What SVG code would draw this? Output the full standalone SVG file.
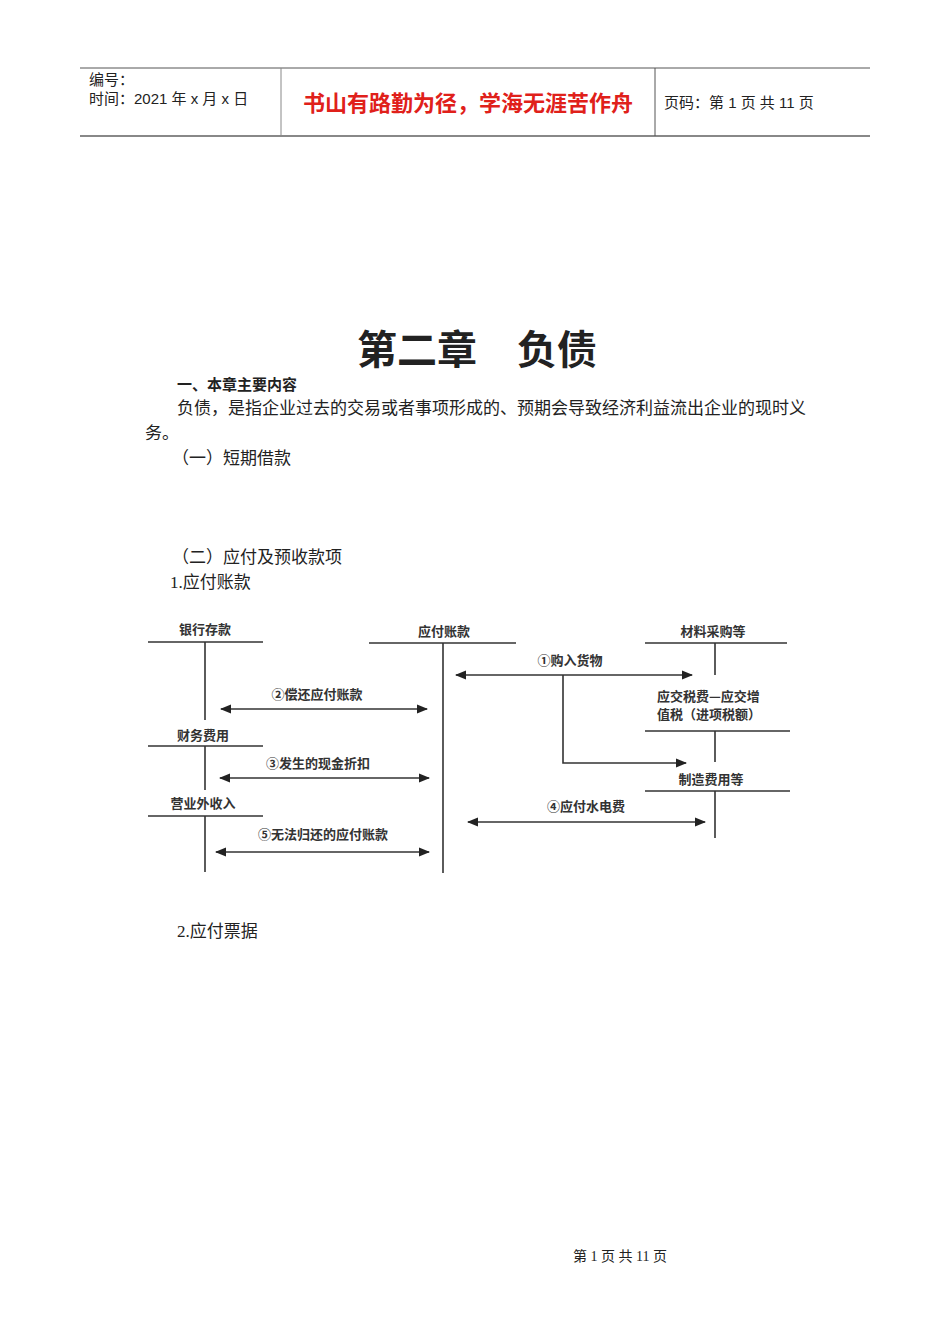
<svg xmlns="http://www.w3.org/2000/svg" width="950" height="1344" viewBox="0 0 950 1344">
<style>
text{font-family:"Liberation Serif","Noto Sans CJK SC",serif;fill:#222}
.b{font-size:17px}
.d{font-size:13px;font-family:"Noto Sans CJK SC",sans-serif;fill:#333;text-anchor:middle;font-weight:bold}
.dl{font-size:13px;font-family:"Noto Sans CJK SC",sans-serif;fill:#333;font-weight:bold}
.h{font-family:"Liberation Sans","Noto Sans CJK SC",sans-serif}
line,path{stroke:#333;stroke-width:1.6;fill:none}
.ah{fill:#222;stroke:none}
</style>
<defs>
<marker id="a" viewBox="0 0 10 10" refX="9" refY="5" markerWidth="7" markerHeight="7" orient="auto-start-reverse"><path class="ah" d="M0,1 L10,5 L0,9 Z"/></marker>
</defs>
<g id="header">
<line x1="80" y1="68" x2="870" y2="68" style="stroke:#555;stroke-width:1"/>
<line x1="80" y1="136" x2="870" y2="136" style="stroke:#888;stroke-width:2"/>
<line x1="281" y1="68" x2="281" y2="136" style="stroke:#888;stroke-width:1"/>
<line x1="655" y1="68" x2="655" y2="136" style="stroke:#555;stroke-width:1"/>
<text class="h" x="89" y="85" font-size="15">编号：</text>
<text class="h" x="89" y="104" font-size="15">时间：2021 年 x 月 x 日</text>
<text class="h" x="468" y="111" font-size="22" font-weight="bold" text-anchor="middle" style="fill:#e0201a">书山有路勤为径，学海无涯苦作舟</text>
<text class="h" x="664" y="108" font-size="15">页码：第 1 页  共 11 页</text>
</g>
<text x="477" y="364" font-size="40" font-weight="bold" text-anchor="middle" style="font-family:'Noto Sans CJK SC',sans-serif">第二章　负债</text>
<text x="177" y="390" font-weight="bold" style="font-family:'Noto Sans CJK SC',sans-serif;font-size:15px">一、本章主要内容</text>
<text class="b" x="177" y="414">负债，是指企业过去的交易或者事项形成的、预期会导致经济利益流出企业的现时义</text>
<text class="b" x="145" y="439">务。</text>
<text class="b" x="172" y="464">（一）短期借款</text>
<text class="b" x="172" y="563">（二）应付及预收款项</text>
<text class="b" x="170" y="588">1.应付账款</text>
<text class="b" x="177" y="937">2.应付票据</text>
<text x="620" y="1261" font-size="14" text-anchor="middle">第 1 页 共 11 页</text>
<g id="n-bank"><text class="d" x="205" y="634">银行存款</text><line x1="148" y1="642" x2="263" y2="642"/><line x1="205" y1="642" x2="205" y2="720"/></g>
<g id="n-fin"><text class="d" x="203" y="740">财务费用</text><line x1="148" y1="746" x2="263" y2="746"/><line x1="205" y1="746" x2="205" y2="790"/></g>
<g id="n-other"><text class="d" x="203" y="808">营业外收入</text><line x1="148" y1="816" x2="263" y2="816"/><line x1="205" y1="816" x2="205" y2="872"/></g>
<g id="n-ap"><text class="d" x="444" y="636">应付账款</text><line x1="369" y1="643" x2="516" y2="643"/><line x1="443" y1="643" x2="443" y2="873"/></g>
<g id="n-mat"><text class="d" x="713" y="636">材料采购等</text><line x1="645" y1="643" x2="787" y2="643"/><line x1="715" y1="643" x2="715" y2="675"/></g>
<g id="n-tax"><text class="dl" x="657" y="701">应交税费—应交增</text><text class="dl" x="657" y="719">值税（进项税额）</text><line x1="645" y1="731" x2="790" y2="731"/><line x1="715" y1="731" x2="715" y2="762"/></g>
<g id="n-mfg"><text class="d" x="711" y="784">制造费用等</text><line x1="645" y1="791" x2="790" y2="791"/><line x1="715" y1="791" x2="715" y2="838"/></g>
<g id="connectors">
<line x1="456" y1="675" x2="692" y2="675" marker-start="url(#a)" marker-end="url(#a)"/>
<path d="M563,675 V763 H686" marker-end="url(#a)"/>
<line x1="221" y1="709" x2="427" y2="709" marker-start="url(#a)" marker-end="url(#a)"/>
<line x1="220" y1="778" x2="429" y2="778" marker-start="url(#a)" marker-end="url(#a)"/>
<line x1="216" y1="852" x2="429" y2="852" marker-start="url(#a)" marker-end="url(#a)"/>
<line x1="468" y1="822" x2="705" y2="822" marker-start="url(#a)" marker-end="url(#a)"/>
<text class="d" x="570" y="665">①购入货物</text>
<text class="d" x="317" y="699">②偿还应付账款</text>
<text class="d" x="318" y="768">③发生的现金折扣</text>
<text class="d" x="586" y="811">④应付水电费</text>
<text class="d" x="323" y="839">⑤无法归还的应付账款</text>
</g>
</svg>
